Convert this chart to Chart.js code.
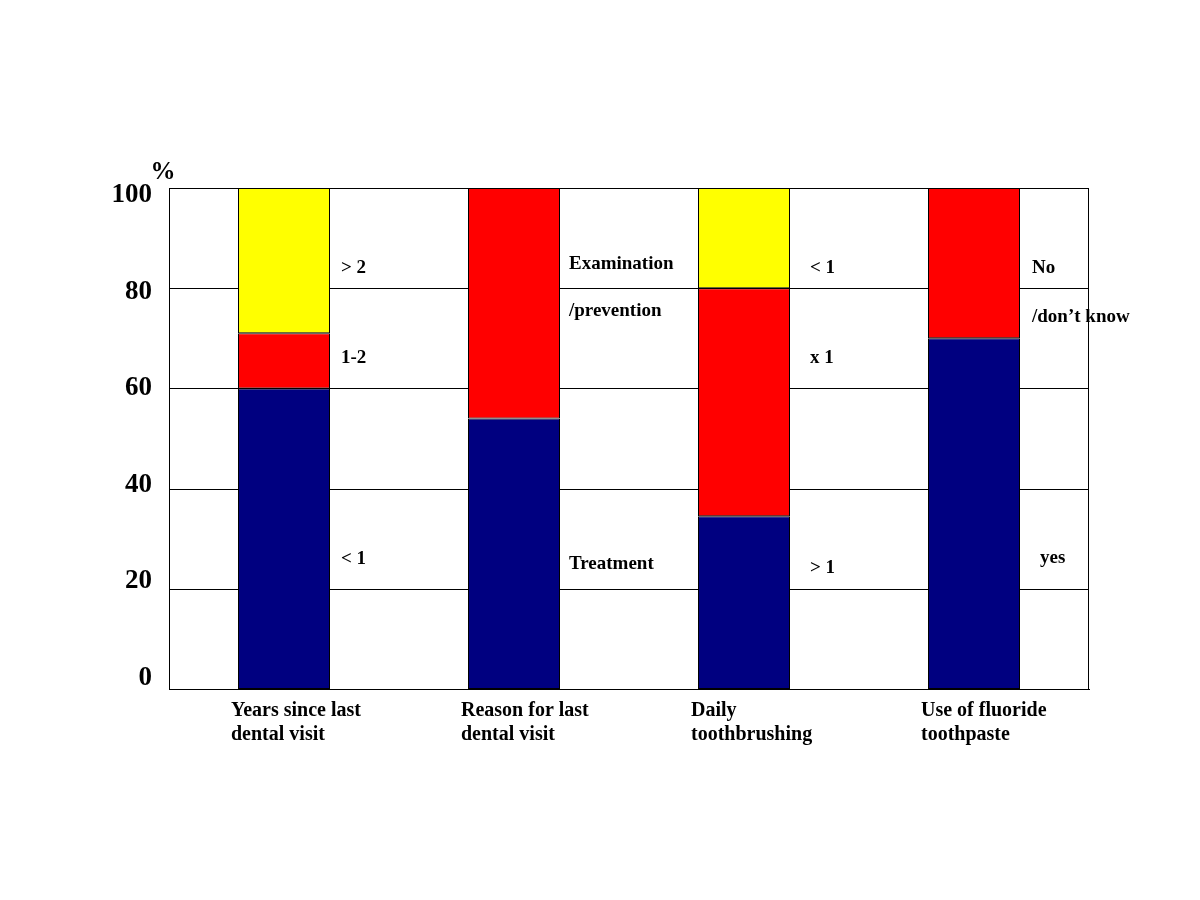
<!DOCTYPE html>
<html>
<head>
<meta charset="utf-8">
<script src="https://cdn.jsdelivr.net/npm/chart.js@4.4.0/dist/chart.umd.min.js"></script>
<style>
html,body{margin:0;padding:0;background:#fff;}
#wrap{width:1200px;height:900px;position:relative;}
</style>
</head>
<body>
<div id="wrap"><canvas id="c" width="1200" height="900"></canvas></div>
<script>
const categories = [
  ["Years since last", "dental visit"],
  ["Reason for last", "dental visit"],
  ["Daily", "toothbrushing"],
  ["Use of fluoride", "toothpaste"]
];
const bottomValues = [60, 54, 34.5, 70];
const middleValues = [11, 46, 45.5, 30];
const topValues = [29, 0, 20, 0];
const yTicks = [0, 20, 40, 60, 80, 100];
const annotTexts = [
  ["> 2", "1-2", "< 1"],
  ["Examination", "/prevention", "Treatment"],
  ["< 1", "x 1", "> 1"],
  ["No", "/don\u2019t know", "yes"]
];
const annotValues = [
  [84, 66, 26],
  [84.8, 75.4, 25],
  [84, 66, 24.2],
  [84, 74.3, 26.1]
];

const SERIF = '"Liberation Serif", "Times New Roman", serif';

const annotPlugin = {
  id: 'annot',
  beforeDatasetsDraw(chart) {
    const ctx = chart.ctx, a = chart.chartArea;
    const y = chart.scales.y;
    ctx.save();
    ctx.strokeStyle = '#000';
    ctx.lineWidth = 1;
    yTicks.forEach(v => {
      const py = Math.round(y.getPixelForValue(v)) + 0.5;
      ctx.beginPath(); ctx.moveTo(a.left, py); ctx.lineTo(a.right, py); ctx.stroke();
    });
    ctx.beginPath();
    ctx.moveTo(Math.round(a.left) + 0.5, a.top);
    ctx.lineTo(Math.round(a.left) + 0.5, a.bottom + 1);
    ctx.moveTo(Math.round(a.right) - 0.5, a.top);
    ctx.lineTo(Math.round(a.right) - 0.5, a.bottom + 1);
    ctx.stroke();
    ctx.restore();
  },
  afterDatasetsDraw(chart, args, opts) {
    const ctx = chart.ctx;
    const x = chart.scales.x, y = chart.scales.y;
    ctx.save();
    ctx.fillStyle = '#000';
    ctx.font = 'bold 19px ' + SERIF;
    ctx.textAlign = 'left';
    ctx.textBaseline = 'middle';
    annotTexts.forEach((list, i) => {
      const cx = x.getPixelForValue(i);
      list.forEach((t, j) => {
        const dx = opts.offsets[i][j];
        ctx.fillText(t, cx + dx, y.getPixelForValue(annotValues[i][j]));
      });
    });
    ctx.font = 'bold 25px ' + SERIF;
    ctx.textAlign = 'center';
    ctx.fillText('%', chart.chartArea.left - 6, y.getPixelForValue(100) - 15);
    ctx.restore();
  }
};

new Chart(document.getElementById('c'), {
  type: 'bar',
  data: {
    labels: categories,
    datasets: [
      { data: bottomValues, backgroundColor: '#000080', borderColor: '#000', borderWidth: 1, yAxisID: 'y' },
      { data: middleValues, backgroundColor: '#FF0000', borderColor: '#000', borderWidth: 1, yAxisID: 'y' },
      { data: topValues, backgroundColor: '#FFFF00', borderColor: '#000', borderWidth: 1, yAxisID: 'y' }
    ]
  },
  options: {
    responsive: false,
    animation: false,
    events: [],
    layout: { padding: { top: 188, right: 111, left: 0, bottom: 0 } },
    datasets: { bar: { categoryPercentage: 1, barPercentage: 0.4, borderSkipped: false } },
    plugins: {
      legend: { display: false },
      tooltip: { enabled: false },
      annot: {
        offsets: [
          [57, 57, 57],
          [55, 55, 55],
          [66, 66, 66],
          [58, 58, 66]
        ]
      }
    },
    scales: {
      x: {
        stacked: true,
        grid: { display: false, drawTicks: false },
        border: { display: true, color: '#000', width: 1 },
        ticks: {
          align: 'start',
          labelOffset: -53,
          padding: 10,
          color: '#000',
          font: { family: SERIF, size: 20, weight: 'bold', lineHeight: 1.2 }
        },
        afterFit(s) { s.height = 900 - 689; }
      },
      y: {
        stacked: true,
        min: 0, max: 100,
        display: false
      },
      yLabels: {
        position: 'left',
        min: -2.9, max: 100.83,
        grid: { display: false, drawTicks: false },
        border: { display: false },
        afterBuildTicks(s) { s.ticks = yTicks.map(v => ({ value: v })); },
        ticks: {
          padding: 17,
          labelOffset: 3,
          color: '#000',
          font: { family: SERIF, size: 27, weight: 'bold' }
        },
        afterFit(s) { s.width = 169; }
      }
    }
  },
  plugins: [annotPlugin]
});
</script>
</body>
</html>
